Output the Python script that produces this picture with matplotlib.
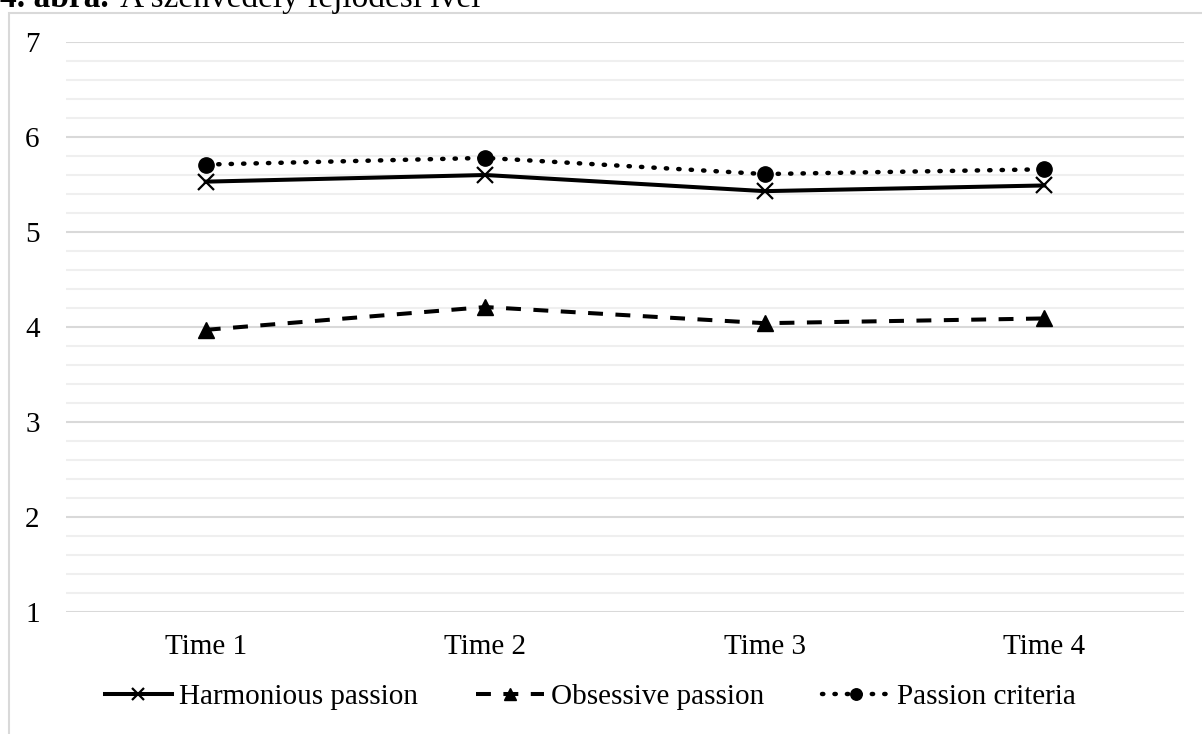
import matplotlib
matplotlib.use('Agg')
import matplotlib.pyplot as plt
from matplotlib.patches import Rectangle
from matplotlib.ticker import MultipleLocator

plt.rcParams['font.family'] = ['Liberation Serif', 'DejaVu Serif']

times = ['Time 1', 'Time 2', 'Time 3', 'Time 4']
harmonious = [5.53, 5.60, 5.43, 5.49]
obsessive = [3.97, 4.21, 4.04, 4.09]
criteria = [5.71, 5.78, 5.61, 5.66]

fig = plt.figure(figsize=(12.02, 7.34), dpi=100)
ax = fig.add_axes([66 / 1202, 1 - 612 / 734, 1118 / 1202, 570 / 734])

x = range(len(times))
lw = 2.9
ax.plot(x, harmonious, color='black', lw=lw, marker='x', ms=11, mew=1.6,
        label='Harmonious passion', zorder=3)
ax.plot(x, obsessive, color='black', lw=lw, ls=(0, (3.7, 3.1)), marker='^', ms=11,
        label='Obsessive passion', zorder=3)
ax.plot(x, criteria, color='black', lw=3.2, ls=(0, (0.3, 2.5)), dash_capstyle='round',
        marker='o', ms=11, label='Passion criteria', zorder=3)

ax.set_xlim(-0.5, 3.5)
ax.set_ylim(1, 7)
ax.set_xticks(list(x))
ax.set_xticklabels(times)
ax.yaxis.set_major_locator(MultipleLocator(1))
ax.yaxis.set_minor_locator(MultipleLocator(0.2))
ax.grid(which='major', axis='y', color='#d9d9d9', lw=1.5)
ax.grid(which='minor', axis='y', color='#efefef', lw=1.5)
ax.set_axisbelow(True)
for s in ax.spines.values():
    s.set_visible(False)
ax.tick_params(which='both', length=0)
ax.tick_params(axis='y', labelsize=21, pad=19)
ax.tick_params(axis='x', labelsize=21, pad=16)

leg = fig.legend(loc='center', bbox_to_anchor=(0.491, 1 - 697 / 734), ncol=3,
                 frameon=False, fontsize=21, handlelength=2.3, handletextpad=0.25,
                 columnspacing=2.0, markerscale=0.75)

# outer frame
fig.add_artist(Rectangle((9 / 1202, -0.05), 1.2, 1 - 13 / 734 + 0.05,
                         transform=fig.transFigure, fill=False,
                         edgecolor='#d9d9d9', lw=1.5))

fig.text(0, 1 - 7 / 734, '4. ábra.', fontsize=24, fontweight='bold', va='baseline')
fig.text(120 / 1202, 1 - 7 / 734, 'A szenvedély fejlődési ívei', fontsize=24, va='baseline')

fig.savefig('out.png', dpi=100)
